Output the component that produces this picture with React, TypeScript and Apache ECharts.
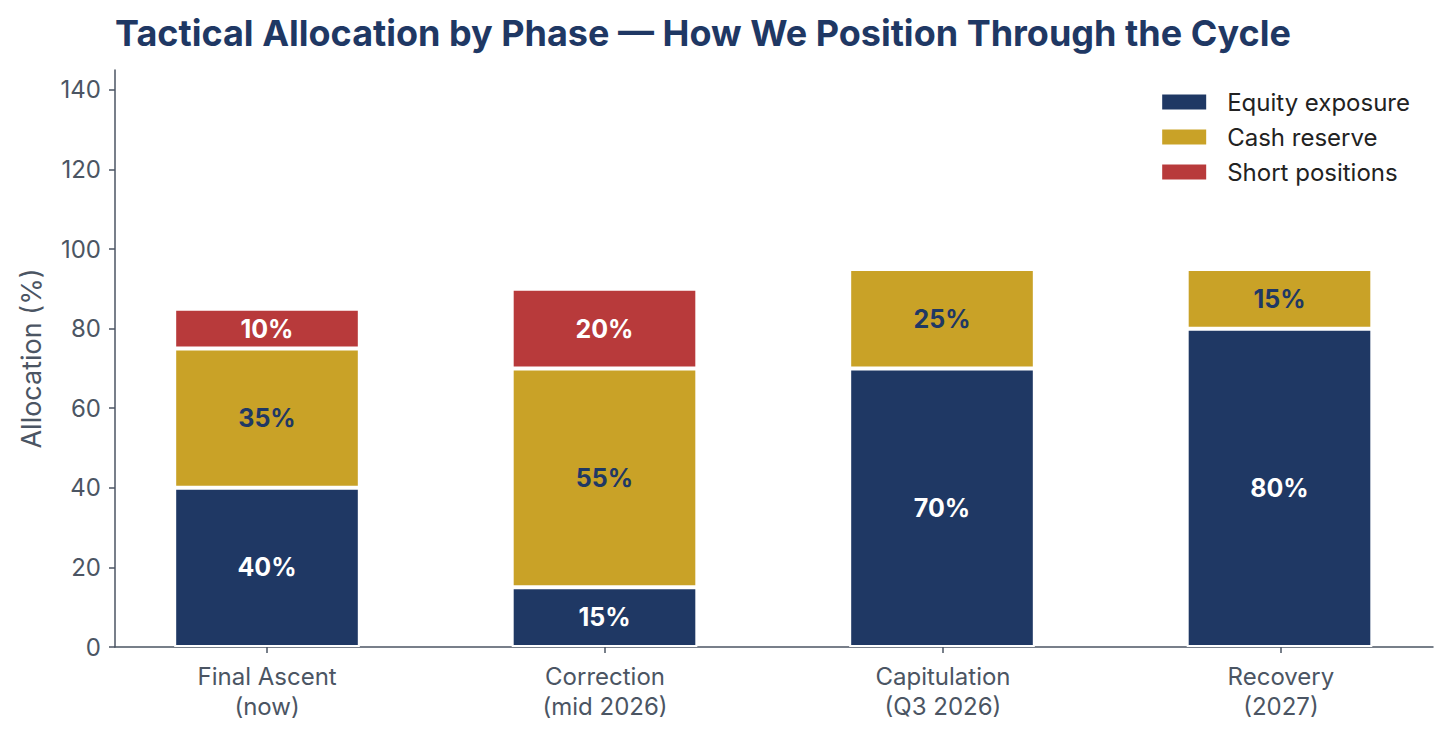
import React, { useEffect, useRef } from "react";
import * as echarts from "echarts";

const categories = ["Final Ascent\n(now)", "Correction\n(mid 2026)", "Capitulation\n(Q3 2026)", "Recovery\n(2027)"];
const equity = [40, 15, 70, 80];
const cash = [35, 55, 25, 15];
const shorts: (number | null)[] = [10, 20, null, null];
const yTicks = [0, 20, 40, 60, 80, 100, 120, 140];
const xTicks = [0, 1, 2, 3];

const NAVY = "#1f3864";
const GOLD = "#c9a227";
const RED = "#b83a3b";
const GREY = "#4b5563";
const FONT = "Inter, 'DejaVu Sans', sans-serif";

export default function App() {
  const ref = useRef<HTMLDivElement>(null);
  useEffect(() => {
    if (!ref.current) return;
    const chart = echarts.init(ref.current, undefined, { renderer: "svg" });
    const labelFor = (color: string) => ({
      show: true,
      position: "inside",
      color,
      fontFamily: FONT,
      fontWeight: "bold",
      fontSize: 25,
      formatter: (p: any) => (p.value == null ? "" : `${p.value}%`),
    });
    const itemStyle = (color: string) => ({ color, borderColor: "#ffffff", borderWidth: 2 });
    chart.setOption({
      animation: false,
      title: {
        text: "Tactical Allocation by Phase — How We Position Through the Cycle",
        left: 110,
        top: 10,
        textStyle: { fontFamily: FONT, fontWeight: "bold", fontSize: 36, color: NAVY },
      },
      legend: {
        orient: "vertical",
        right: 34,
        top: 85,
        itemWidth: 46,
        itemHeight: 17,
        itemGap: 11,
        icon: "rect",
        textStyle: { fontFamily: FONT, fontSize: 24, color: "#222222", padding: [0, 0, 0, 15] },
        data: ["Equity exposure", "Cash reserve", "Short positions"],
      },
      grid: [
        // bar grid: category bands of 337.5px
        { left: 98.25, width: 1350, top: 70, bottom: 90 },
        // axis grid: x range -0.45..3.45 in category units
        { left: 115, right: 16, top: 70, bottom: 90 },
      ],
      xAxis: [
        { type: "category", gridIndex: 0, data: categories, show: false },
        {
          type: "value",
          gridIndex: 1,
          min: -0.45,
          max: 3.45,
          splitLine: { show: false },
          axisLine: { show: true, onZero: false, lineStyle: { color: GREY, width: 1.5 } },
          axisTick: { show: true, length: 6, lineStyle: { color: GREY, width: 1.5 }, customValues: xTicks },
          axisLabel: {
            fontFamily: FONT,
            fontSize: 24,
            color: GREY,
            lineHeight: 30,
            margin: 14,
            customValues: xTicks,
            formatter: (v: number) => categories[Math.round(v)] ?? "",
          },
        },
      ],
      yAxis: [
        { type: "value", gridIndex: 0, min: 0, max: 145, show: false, splitLine: { show: false } },
        {
          type: "value",
          gridIndex: 1,
          min: 0,
          max: 145,
          name: "Allocation (%)",
          nameLocation: "middle",
          nameGap: 70,
          nameTextStyle: { fontFamily: FONT, fontSize: 27, color: GREY },
          splitLine: { show: false },
          axisLine: { show: true, onZero: false, lineStyle: { color: GREY, width: 1.5 } },
          axisTick: { show: true, length: 6, lineStyle: { color: GREY, width: 1.5 }, customValues: yTicks },
          axisLabel: { fontFamily: FONT, fontSize: 24, color: GREY, margin: 14, customValues: yTicks },
        },
      ],
      series: [
        {
          name: "Equity exposure",
          type: "bar",
          stack: "a",
          barWidth: "55%",
          data: equity,
          itemStyle: itemStyle(NAVY),
          label: labelFor("#ffffff"),
        },
        {
          name: "Cash reserve",
          type: "bar",
          stack: "a",
          data: cash,
          itemStyle: itemStyle(GOLD),
          label: labelFor(NAVY),
        },
        {
          name: "Short positions",
          type: "bar",
          stack: "a",
          data: shorts,
          itemStyle: itemStyle(RED),
          label: labelFor("#ffffff"),
        },
      ],
    });
    return () => chart.dispose();
  }, []);
  return <div ref={ref} style={{ position: "absolute", left: 0, top: 0, width: 1449, height: 737 }} />;
}
